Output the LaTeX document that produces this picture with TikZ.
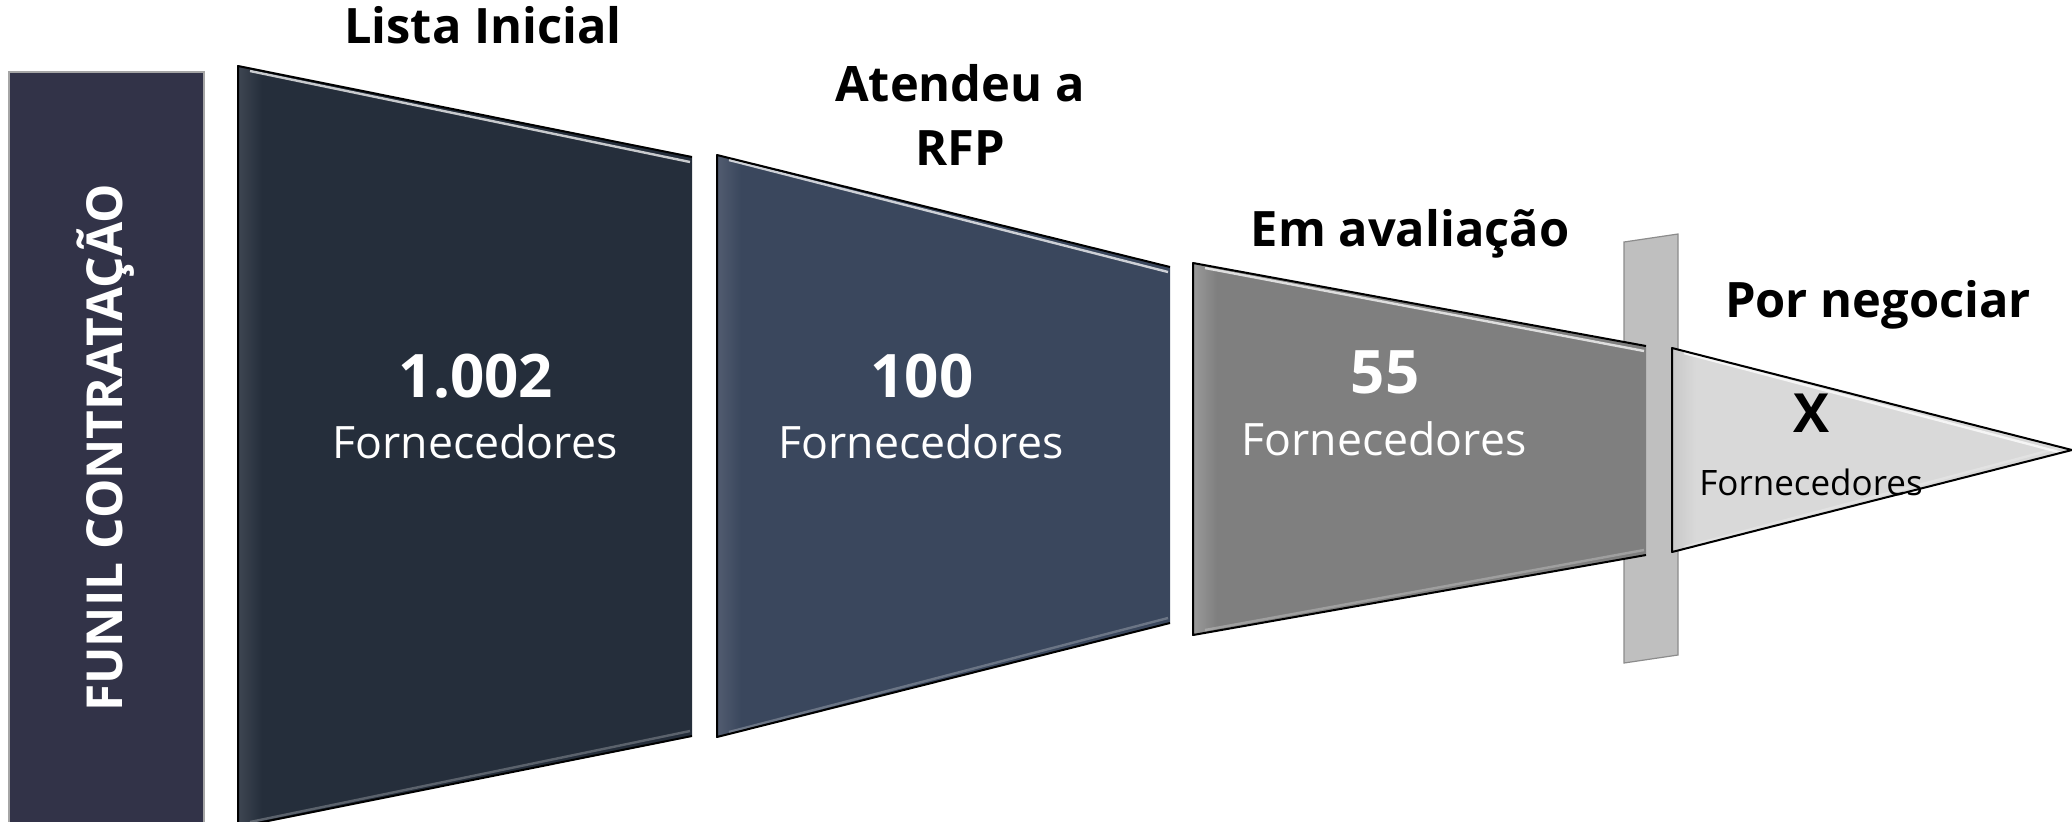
\documentclass[tikz,border=0pt]{standalone}
\usepackage{fontspec}
\setmainfont{Open Sans}
\definecolor{barnavy}{HTML}{323348}
\definecolor{stageone}{HTML}{252E3B}
\definecolor{stageoneedge}{HTML}{3E4652}
\definecolor{stagetwo}{HTML}{3A475D}
\definecolor{stagetwoedge}{HTML}{525C70}
\definecolor{stagethree}{HTML}{7F7F7F}
\definecolor{stagethreeedge}{HTML}{9A9A9A}
\definecolor{stagefour}{HTML}{D9D9D9}
\definecolor{stagefouredge}{HTML}{C8C8C8}
\definecolor{gatefill}{HTML}{BFBFBF}
\definecolor{gatedraw}{HTML}{8C8C8C}
\tikzset{
  stagetitle/.style={anchor=base,inner sep=0pt,font=\bfseries\fontsize{24.4}{28}\selectfont},
  count/.style={anchor=base,inner sep=0pt,text=white,font=\bfseries\fontsize{30}{34}\selectfont},
  unit/.style={anchor=base,inner sep=0pt,text=white,font=\fontsize{22.3}{26}\selectfont},
}
% one funnel stage: x1, top1, bottom1, x2, top2, bottom2, fill, edge
\newcommand{\funnelstage}[8]{%
  \fill[#7] (#1,#2) -- (#4,#5) -- (#4,#6) -- (#1,#3) -- cycle;
  \begin{scope}
    \clip (#1,#2) -- (#4,#5) -- (#4,#6) -- (#1,#3) -- cycle;
    \shade[left color=#8,right color=#7] (#1,#2) rectangle ({#1+24},#3);
  \end{scope}
  \draw[white,opacity=.75,line width=1.2pt] ({#1+12},{#2+5}) -- ({#4-2},{#5+5});
  \draw[white,opacity=.25,line width=1.2pt] ({#1+12},{#3-5}) -- ({#4-2},{#6-5});
  \draw[black,line width=1pt,line join=round] (#4,#5) -- (#1,#2) -- (#1,#3) -- (#4,#6);
}
\begin{document}
\begin{tikzpicture}[x=0.5pt,y=-0.5pt]
\useasboundingbox (0,0) rectangle (2072,821);
\clip (0,0) rectangle (2072,821);
%%
\filldraw[fill=barnavy,draw=gray!70,line width=1pt] (9,72) rectangle (204,830);
\node (funil) at (106,448) [rotate=90,inner sep=0pt,text=white,font=\bfseries\fontsize{24.8}{28}\selectfont] {FUNIL CONTRATAÇÃO};
%
\funnelstage{238}{66}{827}{692}{157}{736}{stageone}{stageoneedge}
\funnelstage{717}{155}{737}{1170}{267}{623}{stagetwo}{stagetwoedge}
\filldraw[fill=gatefill,draw=gatedraw,line width=0.6pt] (1624,242) -- (1678,234) -- (1678,655) -- (1624,663) -- cycle;
\funnelstage{1193}{263}{635}{1646}{346}{555}{stagethree}{stagethreeedge}
\funnelstage{1672}{348}{552}{2072}{450}{450}{stagefour}{stagefouredge}
%
\node (lista) at (483,43) [stagetitle] {Lista Inicial};
\node (atendeu) at (960,101) [stagetitle] {Atendeu a};
\node (rfp) at (960,165) [stagetitle] {RFP};
\node (avaliacao) at (1410,246) [stagetitle] {Em avaliação};
\node (negociar) at (1878,317) [stagetitle] {Por negociar};
%
\node (n1002) at (476,397) [count] {1.002};
\node (forn1) at (475,458) [unit] {Fornecedores};
\node (n100) at (922,397) [count] {100};
\node (forn2) at (921,458) [unit] {Fornecedores};
\node (n55) at (1385,393) [count] {55};
\node (forn3) at (1384,455) [unit] {Fornecedores};
\node (nx) at (1811,432) [count,text=black,font=\bfseries\fontsize{27}{30}\selectfont] {X};
\node (forn4) at (1811,495) [unit,text=black,font=\fontsize{17.5}{20}\selectfont] {Fornecedores};
%
\end{tikzpicture}
\end{document}
